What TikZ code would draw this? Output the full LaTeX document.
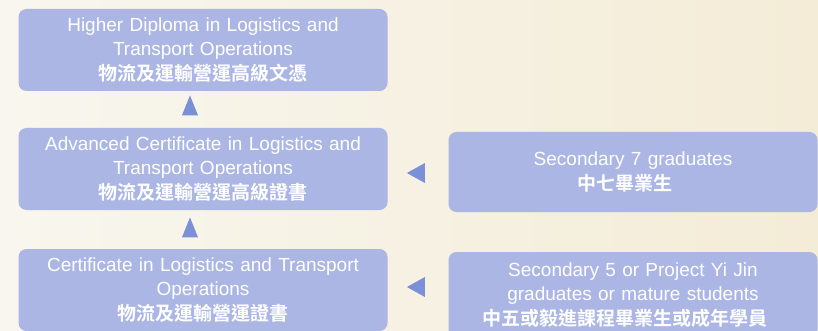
\documentclass[tikz,border=0pt]{standalone}
\usepackage{fontspec}
\setmainfont{Liberation Sans}
\newfontfamily\cjk{Noto Sans CJK TC}[BoldFont={Noto Sans CJK TC Bold}]
\usetikzlibrary{shapes.geometric}
\definecolor{bgL}{HTML}{F8F6EE}
\definecolor{bgR}{HTML}{F4ECD7}
\definecolor{boxfill}{HTML}{ABB6E5}
\definecolor{tri}{HTML}{7B90D6}
\begin{document}
\begin{tikzpicture}[x=1pt,y=-1pt,
  boxnode/.style={fill=boxfill, rounded corners=8pt, minimum width=369pt, text width=365pt,
    align=center, text=white, inner sep=0pt, font=\fontsize{19}{24.5}\selectfont},
  triup/.style={fill=tri, isosceles triangle, shape border rotate=90, isosceles triangle apex angle=44,
    minimum height=20pt, inner sep=0pt},
  trileft/.style={fill=tri, isosceles triangle, shape border rotate=180, isosceles triangle apex angle=58,
    minimum height=18pt, inner sep=0pt}]
\useasboundingbox (0,0) rectangle (818,331);
\shade[left color=bgL, right color=bgR] (0,0) rectangle (818,331);
\newcommand\zh[1]{{\cjk\bfseries\fontsize{19}{24.5}\selectfont #1}}
\newcommand\sh{\hspace*{16pt}}
\node[boxnode, minimum height=82pt] (hd) at (203,50) {Higher Diploma in Logistics and\\Transport Operations\\\zh{物流及運輸營運高級文憑}};
\node[boxnode, minimum height=82pt] (ac) at (203,169) {Advanced Certificate in Logistics and\\Transport Operations\\\zh{物流及運輸營運高級證書}};
\node[boxnode, minimum height=82pt] (ce) at (203,290) {Certificate in Logistics and Transport\\Operations\\\zh{物流及運輸營運證書}};
\node[boxnode, minimum height=80pt] (s7) at (633,172) {Secondary 7 graduates\sh\\\zh{中七畢業生}\sh};
\node[boxnode, minimum height=86pt] (s5) at (633,295) {Secondary 5 or Project Yi Jin\sh\\graduates or mature students\sh\\\zh{中五或毅進課程畢業生或成年學員}\sh};
\node[triup] (t1) at (190,110) {};
\node[triup] (t2) at (190,232) {};
\node[trileft] (t3) at (419,173) {};
\node[trileft] (t4) at (419,287) {};
\end{tikzpicture}
\end{document}
